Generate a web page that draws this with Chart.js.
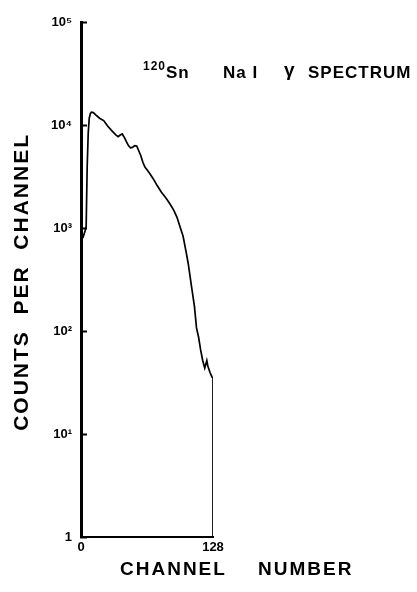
<!DOCTYPE html>
<html><head><meta charset="utf-8">
<script src="https://cdn.jsdelivr.net/npm/chart.js@4/dist/chart.umd.min.js"></script>
<style>html,body{margin:0;padding:0;background:#fff}#wrap{width:417px;height:592px}</style>
</head><body><div id="wrap"><canvas id="c" width="417" height="592"></canvas></div>
<script>
// Channel numbers and counts
const channels = [0, 2, 4, 5, 6, 7, 8, 9, 10, 12, 14, 18, 22, 26, 30, 34, 36, 38, 40, 42, 44, 46, 48, 50, 52, 54, 56, 58, 60, 62, 66, 70, 74, 78, 82, 86, 90, 93, 96, 99, 102, 104, 107, 110, 112, 114, 116, 118, 120, 122, 123, 125, 127, 128, 128];
const counts   = [800, 820, 950, 1050, 4000, 8500, 11800, 13000, 13500, 13400, 12800, 11800, 11200, 9850, 8900, 8100, 7800, 8100, 8300, 7700, 7000, 6400, 6100, 6150, 6400, 6350, 5700, 5100, 4400, 3950, 3500, 3050, 2600, 2250, 2000, 1750, 1500, 1290, 1040, 840, 585, 454, 280, 175, 108, 88, 66, 52, 44, 52, 46, 40, 36, 35, 1];
const yTickValues = [1, 10, 100, 1000, 10000, 100000];
const yTickLabels = ['1', '10¹', '10²', '10³', '10⁴', '10⁵'];
const xTickValues = [0, 128];
const xTickLabels = ['0', '128'];
const yTitleText = 'COUNTS  PER  CHANNEL';
const xTitleWords = ['CHANNEL', 'NUMBER'];
const noteParts = ['120', 'Sn', 'Na I', 'γ', 'SPECTRUM'];

const FONT = "'Liberation Sans', Arial, 'Helvetica Neue', sans-serif";

const textPlugin = {
  id: 'texts',
  afterDraw(chart) {
    const ctx = chart.ctx;
    const ca = chart.chartArea;
    ctx.save();
    ctx.fillStyle = '#000';
    ctx.textBaseline = 'alphabetic';
    ctx.textAlign = 'left';
    // annotation
    ctx.letterSpacing = '1px';
    ctx.font = 'bold 12px ' + FONT;
    ctx.fillText(noteParts[0], 143, 70);
    ctx.font = 'bold 17px ' + FONT;
    ctx.fillText(noteParts[1], 166, 78);
    ctx.fillText(noteParts[2], 223, 78);
    ctx.font = 'bold 19px ' + FONT;
    ctx.fillText(noteParts[3], 284, 76);
    ctx.font = 'bold 17px ' + FONT;
    ctx.fillText(noteParts[4], 308, 78);
    // x title
    ctx.letterSpacing = '2px';
    ctx.font = 'bold 19px ' + FONT;
    ctx.fillText(xTitleWords[0], 120, 575);
    ctx.fillText(xTitleWords[1], 258, 575);
    // y title
    ctx.font = 'bold 21px ' + FONT;
    ctx.translate(28, (ca.top + ca.bottom) / 2 + 2);
    ctx.rotate(-Math.PI / 2);
    ctx.textAlign = 'center';
    ctx.fillText(yTitleText, 0, 0);
    ctx.restore();
  }
};

new Chart(document.getElementById('c'), {
  type: 'scatter',
  data: {
    datasets: [{
      data: channels.map((c, i) => ({x: c, y: counts[i]})),
      showLine: true,
      borderColor: '#000',
      borderWidth: 1.7,
      pointRadius: 0,
      tension: 0,
      segment: {
        borderWidth: s => (s.p1DataIndex === channels.length - 1 ? 1 : 1.7)
      }
    }]
  },
  options: {
    responsive: false,
    animation: false,
    devicePixelRatio: 1,
    layout: { padding: { top: 22, right: 204, left: 0, bottom: 0 } },
    plugins: { legend: { display: false }, tooltip: { enabled: false }, title: { display: false } },
    scales: {
      x: {
        type: 'linear',
        min: 0, max: 128,
        afterBuildTicks: s => { s.ticks = xTickValues.map(v => ({value: v})); },
        afterFit: s => { s.height = 55; },
        grid: { display: false, drawTicks: false },
        border: { display: true, color: '#000', width: 2 },
        ticks: {
          color: '#000', padding: 3,
          font: { family: FONT, size: 13, weight: 'bold' },
          maxRotation: 0,
          callback: (v) => xTickLabels[xTickValues.indexOf(v)]
        }
      },
      y: {
        type: 'logarithmic',
        min: 1, max: 100000,
        afterBuildTicks: s => { s.ticks = yTickValues.map(v => ({value: v, major: true})); },
        afterFit: s => { s.width = 81; },
        grid: { display: true, drawOnChartArea: false, drawTicks: true, tickLength: -6, tickWidth: 2, color: '#000' },
        border: { display: true, color: '#000', width: 3 },
        ticks: {
          color: '#000', padding: 15,
          font: { family: FONT, size: 13, weight: 'bold' },
          callback: (v) => yTickLabels[yTickValues.indexOf(v)]
        }
      }
    }
  },
  plugins: [textPlugin]
});
</script>
</body></html>
